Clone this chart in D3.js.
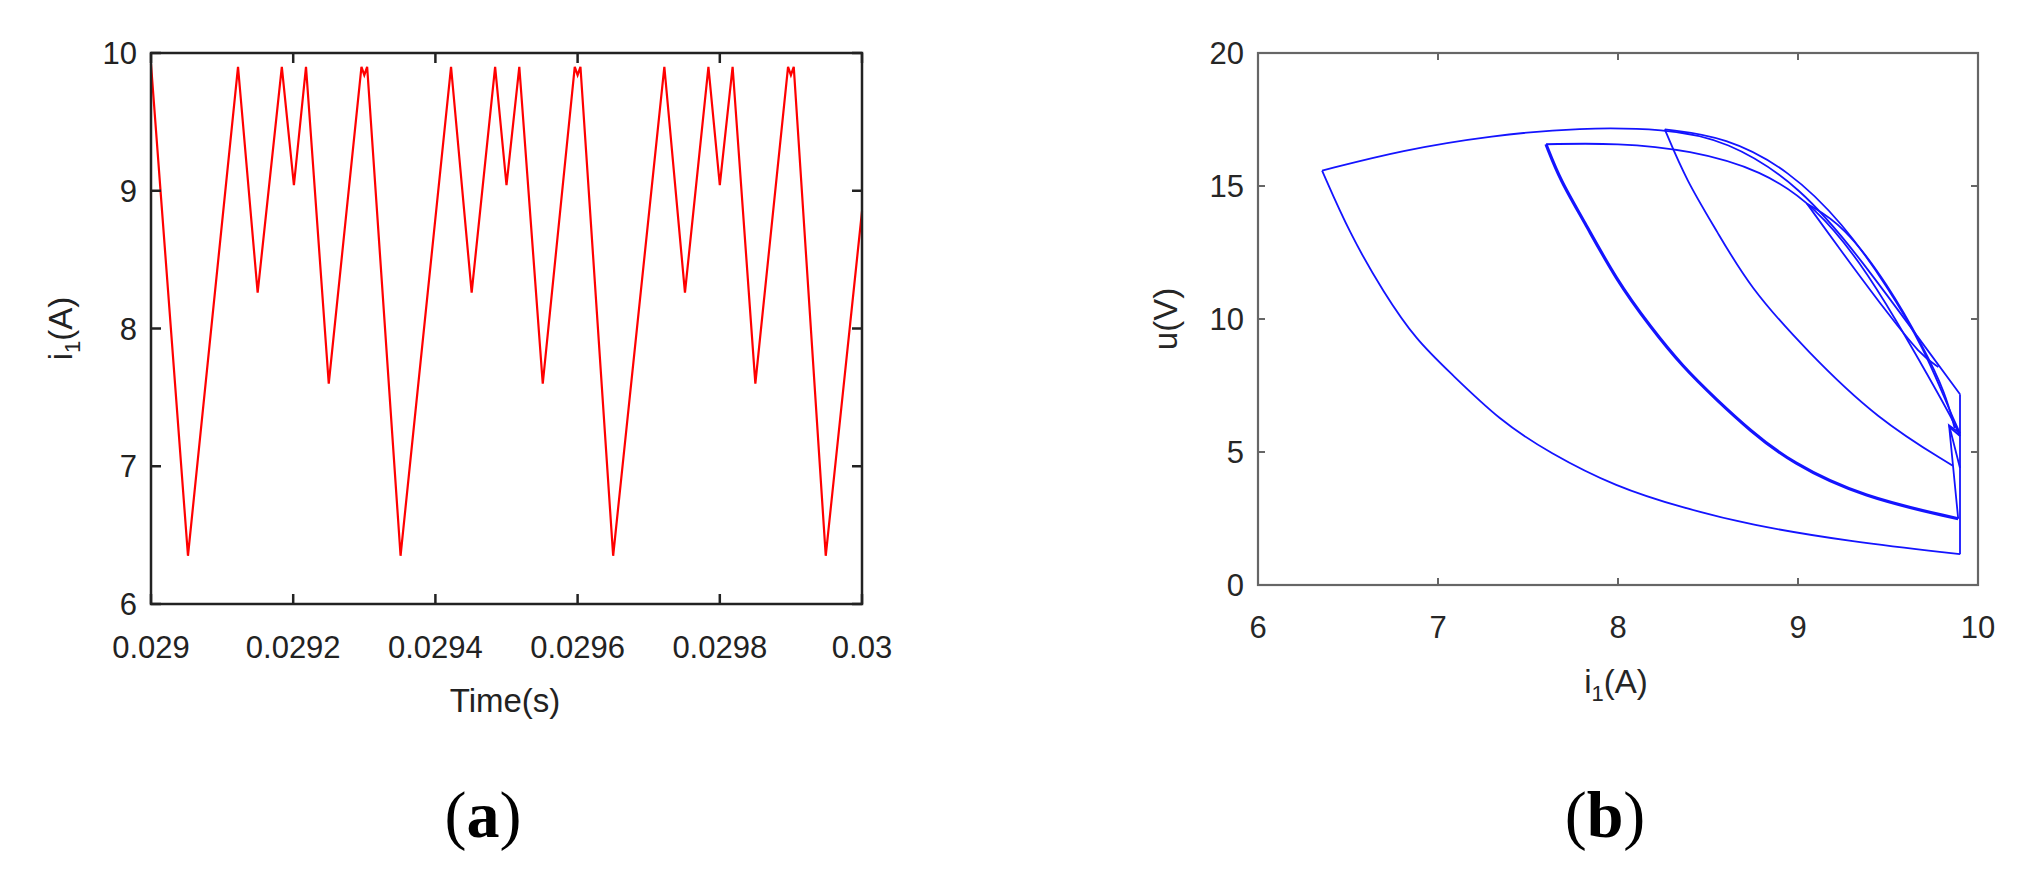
<!DOCTYPE html>
<html><head><meta charset="utf-8">
<script src="https://cdn.jsdelivr.net/npm/d3@7"></script>
<style>body{margin:0;background:#fff}svg{display:block}</style>
</head><body>
<script>
// ---- Data (a): i1 vs time ----
const timeVals = [0.029,0.029052,0.0291224,0.02915,0.029184,0.029201,0.029218,0.02925,0.029296,0.0293,0.029304,0.029351,0.029422,0.029451,0.029484,0.0295,0.029518,0.029551,0.029596,0.0296,0.029604,0.02965,0.029722,0.029751,0.029784,0.0298,0.029818,0.02985,0.029896,0.0299,0.029904,0.029949,0.03];
const i1Vals   = [9.92,6.35,9.9,8.26,9.9,9.04,9.9,7.6,9.9,9.84,9.9,6.35,9.9,8.26,9.9,9.04,9.9,7.6,9.9,9.84,9.9,6.35,9.9,8.26,9.9,9.04,9.9,7.6,9.9,9.84,9.9,6.35,8.85];
const xTicksA = [0.029,0.0292,0.0294,0.0296,0.0298,0.03];
const xTickLabelsA = ["0.029","0.0292","0.0294","0.0296","0.0298","0.03"];
const yTicksA = [6,7,8,9,10];

// ---- Data (b): u vs i1 phase portrait, smooth segments of [i1, u] ----
const outerTop = [[6.356,15.58],[6.8,16.35],[7.3,16.9],[7.79,17.2],[8.26,17.15],[8.6,16.75],[9.02,14.98],[9.36,12.15],[9.68,9.19],[9.9,7.17]];
const outerDrop = [[9.9,7.17],[9.9,1.16]];
const outerBottom = [[9.9,1.16],[9.3,1.62],[8.73,2.26],[8.36,2.9],[7.99,3.68],[7.62,4.96],[7.34,6.2],[7.07,7.97],[6.88,9.2],[6.70,10.97],[6.51,13.2],[6.356,15.58]];
const loop2Top = [[7.6,16.57],[8.0,16.62],[8.4,16.35],[8.8,15.6],[9.1,14.2],[9.35,12.1],[9.55,9.9],[9.72,7.9],[9.86,6.2],[9.9,5.6]];
const loop2Drop = [[9.9,5.6],[9.84,5.95],[9.89,2.49]];
const loop2Bottom = [[9.89,2.49],[9.36,3.3],[8.96,4.6],[8.73,5.83],[8.55,6.95],[8.36,8.2],[8.18,9.7],[7.99,11.47],[7.81,13.7],[7.68,15.2],[7.6,16.57]];
const loop3Top = [[8.26,17.13],[8.6,16.85],[8.95,15.6],[9.25,13.6],[9.5,11.2],[9.7,8.9],[9.84,6.6],[9.9,5.7]];
const loop3Drop = [[9.9,5.7],[9.84,6.0],[9.9,4.4]];
const loop3Bottom = [[9.86,4.48],[9.44,6.23],[9.05,8.79],[8.73,11.2],[8.55,13.3],[8.38,15.2],[8.26,17.13]];
const loop4Down = [[9.05,14.33],[9.3,12.0],[9.5,10.2],[9.68,8.65],[9.78,8.2]];
const loop4Up = [[9.05,14.33],[9.25,13.55],[9.5,11.3],[9.7,8.9],[9.82,7.2],[9.87,5.9]];
const xTicksB = [6,7,8,9,10];
const yTicksB = [0,5,10,15,20];
const phaseSegments = [outerTop, outerDrop, outerBottom, loop2Top, loop2Drop, loop2Bottom, loop3Top, loop3Drop, loop3Bottom, loop4Down, loop4Up];
const thickSegments = [loop2Bottom];
const sharpSegments = [outerDrop, loop2Drop, loop3Drop];

const W = 2024, H = 871;
const svg = d3.select("body").append("svg").attr("width", W).attr("height", H);
const FONT = "Liberation Sans, Arial, sans-serif";

// ---------- Panel (a) ----------
const A = {l:151, r:862, t:53, b:604};
const xA = d3.scaleLinear().domain([0.029,0.03]).range([A.l,A.r]);
const yA = d3.scaleLinear().domain([6,10]).range([A.b,A.t]);
const gA = svg.append("g");
gA.append("path").datum(timeVals.map((t,k)=>[t,i1Vals[k]]))
  .attr("fill","none").attr("stroke","#ff0000").attr("stroke-width",2.2)
  .attr("d", d3.line().x(d=>xA(d[0])).y(d=>yA(d[1])));
function frame(g, box, stroke, w){
  g.append("rect").attr("x",box.l).attr("y",box.t).attr("width",box.r-box.l).attr("height",box.b-box.t)
   .attr("fill","none").attr("stroke",stroke).attr("stroke-width",w);
}
frame(gA, A, "#222", 2.5);
const tl = 10;
xTicksA.forEach((v,k)=>{
  const x = xA(v);
  gA.append("line").attr("x1",x).attr("x2",x).attr("y1",A.b).attr("y2",A.b-tl).attr("stroke","#222").attr("stroke-width",2.5);
  gA.append("line").attr("x1",x).attr("x2",x).attr("y1",A.t).attr("y2",A.t+tl).attr("stroke","#222").attr("stroke-width",2.5);
  gA.append("text").attr("x",x).attr("y",658).attr("text-anchor","middle").attr("font-family",FONT).attr("font-size",31).attr("fill","#222").text(xTickLabelsA[k]);
});
yTicksA.forEach(v=>{
  const y = yA(v);
  gA.append("line").attr("x1",A.l).attr("x2",A.l+tl).attr("y1",y).attr("y2",y).attr("stroke","#222").attr("stroke-width",2.5);
  gA.append("line").attr("x1",A.r).attr("x2",A.r-tl).attr("y1",y).attr("y2",y).attr("stroke","#222").attr("stroke-width",2.5);
  gA.append("text").attr("x",A.l-14).attr("y",y+11).attr("text-anchor","end").attr("font-family",FONT).attr("font-size",31).attr("fill","#222").text(v);
});
gA.append("text").attr("x",505).attr("y",712).attr("text-anchor","middle").attr("font-family",FONT).attr("font-size",33).attr("fill","#222").text("Time(s)");
const ylA = gA.append("text").attr("transform","translate(72,"+((A.t+A.b)/2)+") rotate(-90)").attr("text-anchor","middle")
  .attr("font-family",FONT).attr("font-size",33).attr("fill","#222");
ylA.append("tspan").text("i");
ylA.append("tspan").attr("font-size",22).attr("dy",8).text("1");
ylA.append("tspan").attr("dy",-8).text("(A)");
svg.append("text").attr("x",483).attr("y",837).attr("text-anchor","middle").attr("font-family","Liberation Serif, Times New Roman, serif").attr("font-size",66).attr("fill","#000")
  .html('(<tspan font-weight="bold">a</tspan>)');

// ---------- Panel (b) ----------
const B = {l:1258, r:1978, t:53, b:585};
const xB = d3.scaleLinear().domain([6,10]).range([B.l,B.r]);
const yB = d3.scaleLinear().domain([0,20]).range([B.b,B.t]);
const gB = svg.append("g");
const smoothB = d3.line().x(d=>xB(d[0])).y(d=>yB(d[1])).curve(d3.curveBasis);
const sharpB = d3.line().x(d=>xB(d[0])).y(d=>yB(d[1]));
phaseSegments.forEach(c=>{
  gB.append("path").datum(c).attr("fill","none").attr("stroke","#1414ff")
    .attr("stroke-width", thickSegments.includes(c)?3.2:1.8)
    .attr("d", sharpSegments.includes(c) ? sharpB : smoothB);
});
frame(gB, B, "#666", 2.2);
xTicksB.forEach(v=>{
  const x = xB(v);
  gB.append("line").attr("x1",x).attr("x2",x).attr("y1",B.b).attr("y2",B.b-7).attr("stroke","#666").attr("stroke-width",2);
  gB.append("line").attr("x1",x).attr("x2",x).attr("y1",B.t).attr("y2",B.t+7).attr("stroke","#666").attr("stroke-width",2);
  gB.append("text").attr("x",x).attr("y",638).attr("text-anchor","middle").attr("font-family",FONT).attr("font-size",31).attr("fill","#262626").text(v);
});
yTicksB.forEach(v=>{
  const y = yB(v);
  gB.append("line").attr("x1",B.l).attr("x2",B.l+7).attr("y1",y).attr("y2",y).attr("stroke","#666").attr("stroke-width",2);
  gB.append("line").attr("x1",B.r).attr("x2",B.r-7).attr("y1",y).attr("y2",y).attr("stroke","#666").attr("stroke-width",2);
  gB.append("text").attr("x",B.l-14).attr("y",y+11).attr("text-anchor","end").attr("font-family",FONT).attr("font-size",31).attr("fill","#262626").text(v);
});
const xlB = gB.append("text").attr("x",1616).attr("y",693).attr("text-anchor","middle").attr("font-family",FONT).attr("font-size",33).attr("fill","#262626");
xlB.append("tspan").text("i");
xlB.append("tspan").attr("font-size",22).attr("dy",8).text("1");
xlB.append("tspan").attr("dy",-8).text("(A)");
gB.append("text").attr("transform","translate(1177,"+((B.t+B.b)/2)+") rotate(-90)").attr("text-anchor","middle")
  .attr("font-family",FONT).attr("font-size",33).attr("fill","#262626").text("u(V)");
svg.append("text").attr("x",1605).attr("y",837).attr("text-anchor","middle").attr("font-family","Liberation Serif, Times New Roman, serif").attr("font-size",66).attr("fill","#000")
  .html('(<tspan font-weight="bold">b</tspan>)');
</script>
</body></html>
